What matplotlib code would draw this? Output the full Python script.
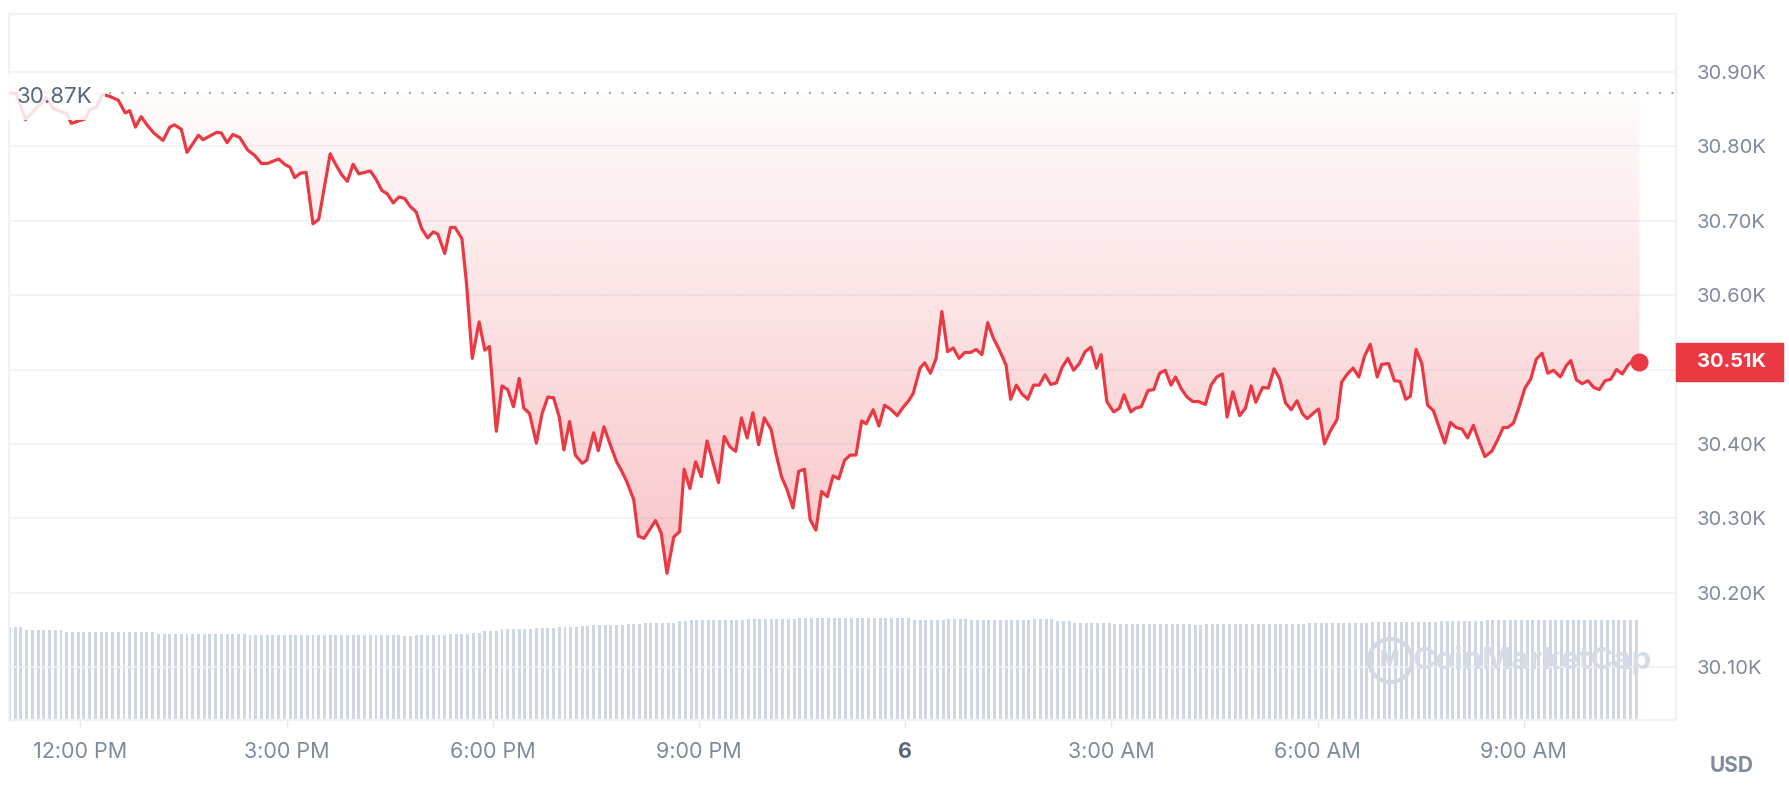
import numpy as np
import matplotlib
matplotlib.use("Agg")
import matplotlib.pyplot as plt
from matplotlib.colors import to_rgb
from matplotlib.patches import PathPatch, Rectangle
from matplotlib.transforms import blended_transform_factory

plt.rcParams['font.family'] = ['Inter', 'DejaVu Sans']

# minutes since 12:00 PM (day 5), one entry per visible vertex of the price line
minutes = [
    -62, -56, -48, -40, -30, -24, -12, -8, 4, 8,
    14, 19, 26, 33, 39, 43, 48, 53, 58, 64,
    72, 78, 82, 88, 93, 103, 107, 119, 123, 128,
    133, 139, 146, 152, 158, 163, 173, 179, 183, 187,
    192, 197, 203, 208, 212, 218, 222, 228, 233, 238,
    243, 248, 253, 258, 263, 268, 273, 278, 283, 288,
    293, 298, 303, 308, 312, 318, 323, 327, 333, 337,
    342, 348, 353, 357, 363, 368, 373, 378, 383, 387,
    392, 398, 403, 408, 413, 418, 422, 427, 432, 438,
    442, 448, 452, 457, 462, 468, 472, 477, 483, 487,
    492, 497, 502, 507, 512, 518, 523, 527, 532, 537,
    542, 547, 552, 557, 562, 567, 572, 577, 582, 587,
    592, 597, 603, 607, 612, 617, 622, 627, 632, 637,
    642, 647, 652, 657, 662, 667, 672, 677, 682, 686,
    692, 697, 702, 707, 713, 718, 723, 727, 733, 737,
    742, 747, 752, 757, 762, 767, 772, 777, 782, 787,
    792, 797, 802, 808, 812, 817, 822, 827, 832, 837,
    842, 847, 852, 857, 862, 867, 872, 877, 882, 887,
    891, 896, 902, 907, 911, 917, 921, 926, 932, 937,
    942, 947, 952, 956, 961, 966, 971, 976, 982, 987,
    992, 997, 1001, 1006, 1012, 1017, 1022, 1026, 1032, 1037,
    1042, 1047, 1052, 1057, 1062, 1067, 1071, 1076, 1081, 1086,
    1091, 1097, 1101, 1106, 1111, 1116, 1121, 1126, 1132, 1136,
    1142, 1147, 1152, 1157, 1161, 1166, 1171, 1176, 1181, 1186,
    1191, 1196, 1201, 1206, 1211, 1216, 1221, 1226, 1232, 1237,
    1242, 1246, 1251, 1256, 1261, 1266, 1271, 1276, 1281, 1286,
    1292, 1297, 1301, 1306, 1311, 1316, 1321, 1326, 1331, 1336,
    1341, 1346, 1351, 1356, 1361,
]

# price in USD
prices = [
    30872, 30871, 30836, 30849, 30865, 30851, 30844, 30831, 30837, 30849,
    30853, 30870, 30867, 30862, 30845, 30848, 30826, 30840, 30829, 30818,
    30808, 30826, 30829, 30823, 30792, 30815, 30809, 30819, 30818, 30805,
    30816, 30812, 30795, 30788, 30777, 30777, 30783, 30775, 30772, 30758,
    30764, 30765, 30696, 30702, 30737, 30790, 30778, 30762, 30753, 30776,
    30763, 30765, 30767, 30756, 30741, 30736, 30724, 30732, 30730, 30719,
    30712, 30689, 30677, 30685, 30682, 30656, 30691, 30691, 30676, 30616,
    30515, 30564, 30526, 30531, 30417, 30478, 30473, 30450, 30488, 30448,
    30441, 30401, 30441, 30463, 30462, 30436, 30392, 30430, 30385, 30374,
    30378, 30415, 30391, 30423, 30401, 30376, 30365, 30349, 30325, 30276,
    30273, 30285, 30297, 30280, 30226, 30275, 30282, 30366, 30340, 30376,
    30356, 30404, 30376, 30348, 30410, 30396, 30390, 30435, 30408, 30442,
    30399, 30435, 30419, 30388, 30356, 30338, 30314, 30363, 30366, 30298,
    30284, 30336, 30329, 30357, 30353, 30378, 30385, 30385, 30431, 30427,
    30446, 30424, 30452, 30447, 30438, 30449, 30458, 30468, 30502, 30509,
    30495, 30515, 30578, 30524, 30529, 30515, 30523, 30523, 30527, 30520,
    30563, 30542, 30527, 30506, 30460, 30479, 30467, 30460, 30479, 30479,
    30493, 30480, 30482, 30503, 30515, 30499, 30508, 30524, 30530, 30502,
    30520, 30457, 30443, 30448, 30466, 30443, 30448, 30450, 30472, 30473,
    30495, 30499, 30479, 30490, 30474, 30463, 30457, 30457, 30453, 30479,
    30490, 30494, 30436, 30470, 30438, 30448, 30478, 30456, 30476, 30475,
    30501, 30487, 30455, 30446, 30458, 30440, 30434, 30441, 30447, 30400,
    30417, 30433, 30483, 30494, 30502, 30490, 30518, 30534, 30490, 30507,
    30508, 30485, 30484, 30460, 30464, 30527, 30508, 30452, 30445, 30423,
    30401, 30429, 30422, 30420, 30408, 30425, 30403, 30383, 30390, 30405,
    30422, 30422, 30428, 30450, 30475, 30487, 30514, 30522, 30495, 30499,
    30490, 30505, 30512, 30486, 30481, 30485, 30476, 30473, 30485, 30487,
    30500, 30494, 30506, 30513, 30510,
]

# volume bars: one every 5 minutes over the same window
bar_first, bar_last, bar_step = -62, 1361, 5

# volume (billions USD, estimated): level read off the bars from each start minute on
vol_start = [-62, -48, -13, 68, 148, 218, 283, 290, 321, 341, 350, 366, 396, 416,
             436, 446, 476, 491, 521, 531, 581, 626, 698, 728, 754, 774, 830, 850,
             865, 901, 972, 982, 1072, 1128, 1184, 1225]
vol_level = [13.95, 13.5, 13.2, 12.86, 12.7, 12.8, 12.6, 12.7, 12.86, 13.1, 13.3, 13.7,
             13.85, 14.0, 14.15, 14.3, 14.45, 14.6, 14.85, 15.05, 15.2, 15.35, 15.25,
             15.0, 15.15, 15.0, 15.15, 14.9, 14.6, 14.4, 14.3, 14.4, 14.6, 14.7, 14.85, 15.0]

price_ticks = [30100, 30200, 30300, 30400, 30500, 30600, 30700, 30800, 30900]
time_ticks = [0, 180, 360, 540, 720, 900, 1080, 1260]
time_labels = ["12:00 PM", "3:00 PM", "6:00 PM", "9:00 PM", "6", "3:00 AM", "6:00 AM", "9:00 AM"]

RED = "#ea3943"
GREY = "#808a9d"
DARK = "#58667e"

n = min(len(minutes), len(prices))
hours = np.array(minutes[:n]) / 60.0
price = np.array(prices[:n], dtype=float)
baseline = price[0]

bar_min = np.arange(bar_first, bar_last + 1, bar_step)
idx = np.searchsorted(vol_start, bar_min, side="right") - 1
vols = np.array(vol_level)[np.clip(idx, 0, None)]

fig = plt.figure(figsize=(17.9, 7.88), dpi=100)
rect = [9 / 1790, 68 / 788, 1667 / 1790, 706 / 788]
ax_vol = fig.add_axes(rect)
ax = fig.add_axes(rect, sharex=ax_vol)
ax.set_zorder(2)
ax.patch.set_visible(False)

# volume bars
ax_vol.bar(bar_min / 60.0, vols, width=2.6 / 60, color="#cfd6e4", linewidth=0)
ax_vol.set_ylim(0, max(vol_level) * 6.9)
ax_vol.tick_params(left=False, bottom=False, labelleft=False, labelbottom=False)
for s in ax_vol.spines.values():
    s.set_visible(False)

# gradient fill between line and the opening price
poly = ax.fill_between(hours, price, baseline, color="none", linewidth=0)
clip = PathPatch(poly.get_paths()[0], transform=ax.transData, facecolor="none", edgecolor="none")
ax.add_patch(clip)
g = np.linspace(0, 1, 256)[:, None]
rgba = np.zeros((256, 1, 4))
rgba[..., :3] = to_rgb(RED)
rgba[..., 3] = 0.02 + 0.27 * g
img = ax.imshow(rgba, extent=[hours[0], hours[-1], price.min(), baseline],
                origin="upper", aspect="auto", zorder=1, interpolation="bilinear")
img.set_clip_path(clip)

ax.plot(hours, price, color=RED, lw=2.3, zorder=3, solid_joinstyle="round")
ax.plot(hours[-1], price[-1], "o", color=RED, ms=12, zorder=4)

# opening price dotted line + label
ax.axhline(baseline, color="#a1a7bb", lw=1.5, ls=(0, (1, 5)), zorder=2)
bt = blended_transform_factory(ax.transAxes, ax.transData)
ax.text(0.0048, baseline - 6, f"{baseline / 1000:.2f}K", transform=bt, ha="left", va="center",
        fontsize=16, color=DARK, zorder=5,
        bbox=dict(boxstyle="square,pad=0.55", fc="white", ec="none", alpha=0.85))

# current price tag
last = price[-1]
ax.add_patch(Rectangle((1.0, last - 25), 107 / 1667, 50, transform=bt, color=RED,
                       clip_on=False, zorder=10))
ax.text(1.0126, last, f"{last / 1000:.2f}K", transform=bt, ha="left", va="center",
        fontsize=14.5, color="white", fontweight="bold", zorder=11, clip_on=False)

# watermark
ax.plot(19.05, 30110, "o", ms=31, mfc="none", mec="#d3d9e3", mew=3, zorder=2)
ax.text(19.05, 30110, "M", ha="center", va="center", fontsize=15, fontweight="bold",
        color="#d3d9e3", zorder=2)
ax.text(19.39, 30110, "CoinMarketCap", ha="left", va="center", fontsize=22.5,
        fontweight="bold", color="#d6dce5", zorder=2)

ax.set_xlim(-62.4 / 60, 1392.9 / 60)
ax.set_ylim(30028.8, 30978)

ax.set_yticks(price_ticks)
# the 30.50K label sits under the current-price tag, so it is left blank
ax.set_yticklabels(["" if v == 30500 else f"{v / 1000:.2f}K" for v in price_ticks])
ax.yaxis.tick_right()
ax.tick_params(axis="y", length=0, pad=15, labelsize=14.5, labelcolor=GREY)
ax.grid(axis="y", color="#eff2f5", lw=1.2, zorder=0)
ax.set_axisbelow(True)

ax.set_xticks(np.array(time_ticks) / 60)
ax.set_xticklabels(time_labels)
ax.tick_params(axis="x", length=6, width=1, color="#e6e9ee", pad=10, labelsize=15.5, labelcolor=GREY)
lab6 = ax.get_xticklabels()[4]
lab6.set_fontweight("bold")
lab6.set_color(DARK)

for s in ax.spines.values():
    s.set_color("#eff2f5")
    s.set_linewidth(1.6)

fig.text(1732 / 1790, 1 - 766 / 788, "USD", ha="center", va="center", fontsize=15,
         fontweight="bold", color=GREY)

fig.savefig("out.png", dpi=100, facecolor="white")
